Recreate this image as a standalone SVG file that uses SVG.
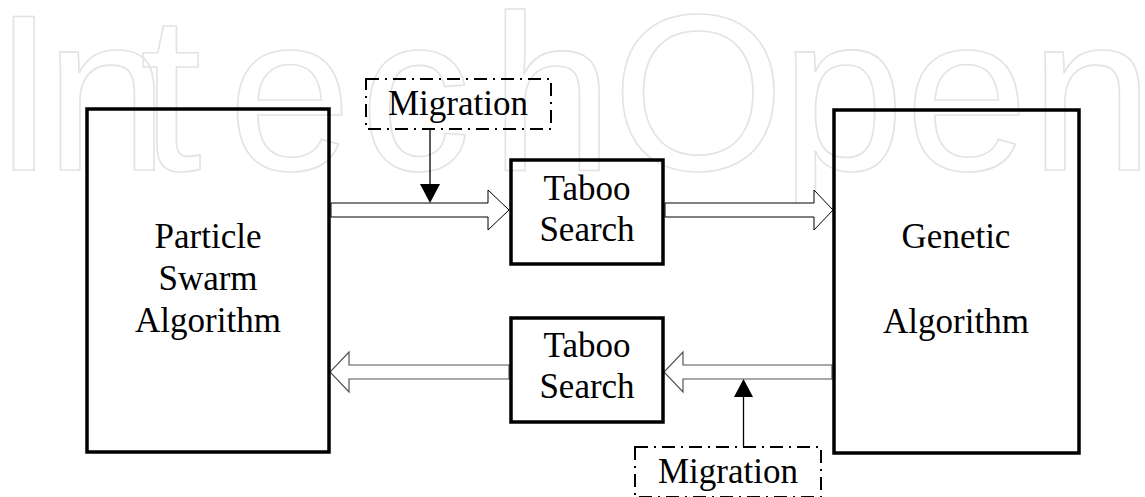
<svg xmlns="http://www.w3.org/2000/svg" width="1145" height="497" viewBox="0 0 1145 497">
<style>
.wm{font-family:"Liberation Sans",Arial,sans-serif;font-size:222px;fill:none;stroke:#e3e3e3;stroke-width:1.6}
.box{fill:none;stroke:#000;stroke-width:3.5}
.mig{fill:none;stroke:#000;stroke-width:2;stroke-dasharray:13 6 2 6}
.t{font-family:"Liberation Serif","Times New Roman",serif;font-size:35px;fill:#000;text-anchor:middle}
.hollow{fill:#fff;stroke:#000;stroke-width:1}
.hollow2{fill:#fff;stroke:#555;stroke-width:1.2}
.ln{stroke:#000;stroke-width:1.3;fill:none}
.head{fill:#000}
</style>
<rect width="1145" height="497" fill="#fff"/>
<text class="wm" x="-7 45 140 228 360 490 612 781 905 1030" y="170">IntechOpen</text>
<g id="connectors">
<polygon class="hollow" points="331,203 488,203 488,190 509,210 488,230 488,217 331,217"/>
<polygon class="hollow" points="665,203 814,203 814,190 833,210 814,230 814,217 665,217"/>
<polygon class="hollow2" points="832,365 683,365 683,352 664,372 683,392 683,379 832,379"/>
<polygon class="hollow2" points="509,365 349,365 349,352 330,372 349,392 349,379 509,379"/>
<line class="ln" x1="430" y1="129" x2="430" y2="186"/>
<polygon class="head" points="420,184 440,184 430,203"/>
<line class="ln" x1="743.5" y1="447" x2="743.5" y2="395"/>
<polygon class="head" points="734,397 753,397 743.5,379"/>
</g>
<g id="pso">
<rect class="box" x="87" y="109" width="242" height="343"/>
<text class="t" x="208" y="248">Particle</text>
<text class="t" x="208" y="290">Swarm</text>
<text class="t" x="208" y="332">Algorithm</text>
</g>
<g id="ga">
<rect class="box" x="834" y="110" width="245" height="343"/>
<text class="t" x="956" y="248">Genetic</text>
<text class="t" x="956" y="333">Algorithm</text>
</g>
<g id="taboo1">
<rect class="box" x="511" y="160" width="152" height="104"/>
<text class="t" x="587" y="200">Taboo</text>
<text class="t" x="587" y="241">Search</text>
</g>
<g id="taboo2">
<rect class="box" x="511" y="318" width="152" height="104"/>
<text class="t" x="587" y="357">Taboo</text>
<text class="t" x="587" y="398">Search</text>
</g>
<g id="migration1">
<rect class="mig" x="366" y="79" width="185" height="50"/>
<text class="t" x="458" y="115">Migration</text>
</g>
<g id="migration2">
<rect class="mig" x="635" y="447" width="186" height="50"/>
<text class="t" x="728" y="483">Migration</text>
</g>
</svg>
